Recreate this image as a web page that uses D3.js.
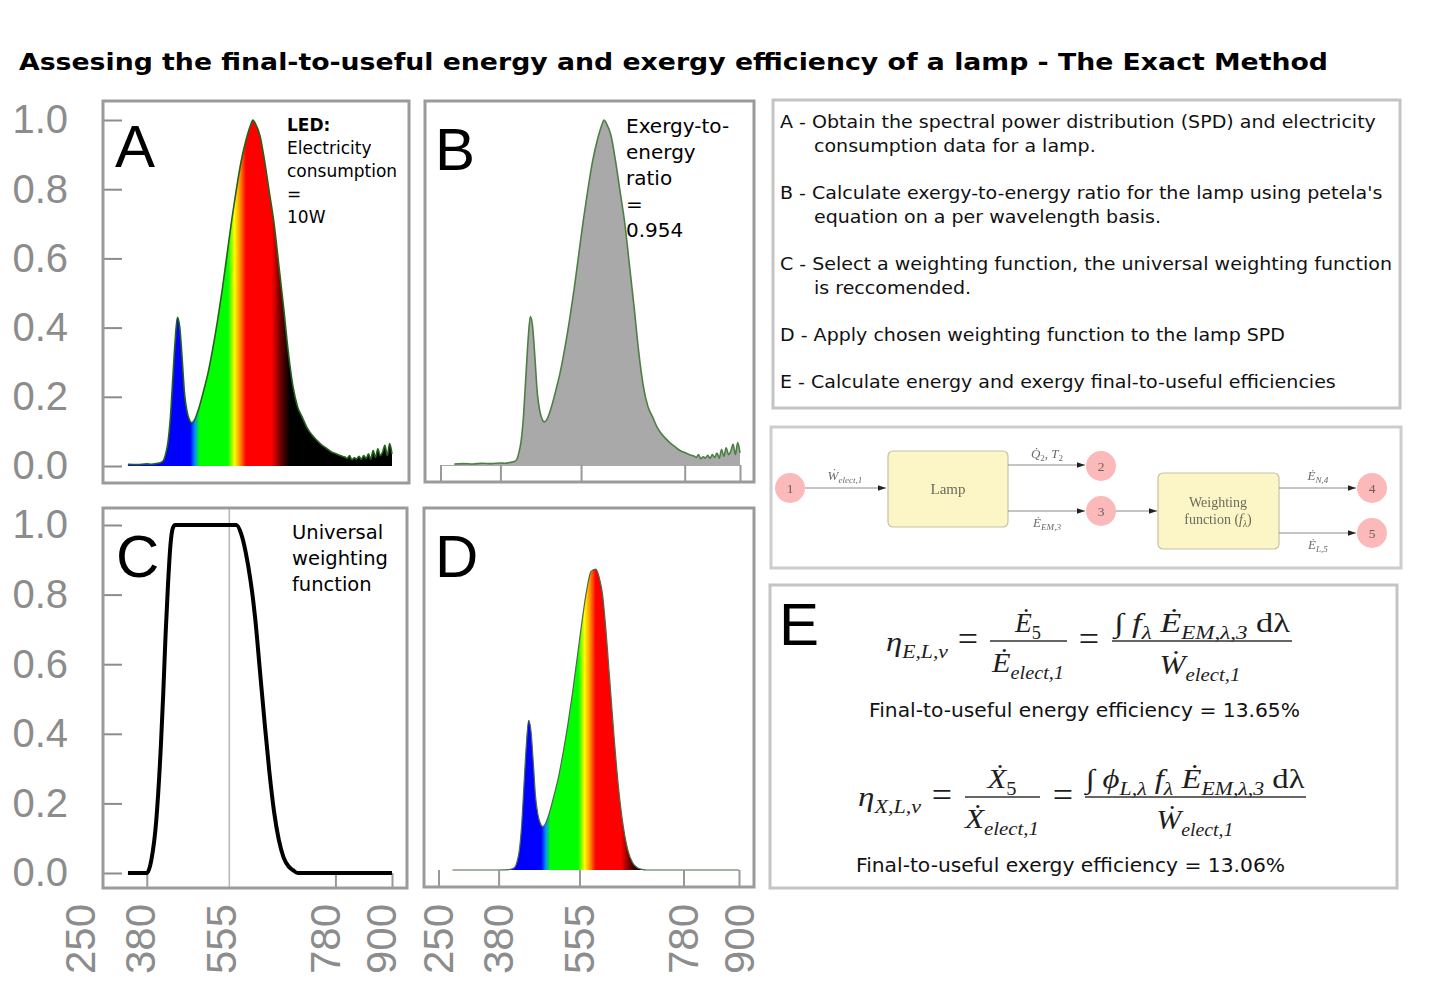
<!DOCTYPE html>
<html><head><meta charset="utf-8">
<script src="https://cdn.jsdelivr.net/npm/d3@7/dist/d3.min.js"></script>
<style>html,body{margin:0;padding:0;background:#fff;}svg{display:block;}</style>
</head><body>
<svg id="chart" width="1430" height="1000"></svg>
<script>
// ================= DATA =================
const titleText = "Assesing the final-to-useful energy and exergy efficiency of a lamp - The Exact Method";

const wavelengths = [280,300,320,340,360,380,390,400,410,415,420,425,430,435,440,445,450,455,460,465,470,475,480,490,500,510,520,530,540,550,560,570,580,590,600,605,610,620,630,640,650,660,670,680,690,700,710,720,730,740,750,760,770,780,790,800,805,810,815,820,825,830,835,840,845,850,855,860,865,870,875,880,885,890,895,900];

// normalised spectral power distribution of the LED lamp (panel A)
const spdValues = [0.003,0.004,0.003,0.005,0.004,0.006,0.005,0.007,0.010,0.015,0.035,0.070,0.140,0.250,0.360,0.430,0.400,0.310,0.210,0.160,0.135,0.125,0.130,0.165,0.215,0.270,0.340,0.420,0.510,0.610,0.710,0.800,0.880,0.940,0.985,1.000,0.990,0.955,0.880,0.790,0.700,0.580,0.460,0.330,0.230,0.170,0.140,0.110,0.090,0.075,0.062,0.052,0.042,0.036,0.030,0.026,0.022,0.030,0.018,0.024,0.020,0.028,0.019,0.030,0.022,0.035,0.020,0.045,0.025,0.050,0.030,0.040,0.060,0.030,0.065,0.035];

// universal weighting function f_lambda (panel C)
const weightValues = [0,0,0,0,0,0,0.04,0.15,0.37,0.52,0.69,0.83,0.94,0.99,1,1,1,1,1,1,1,1,1,1,1,1,1,1,1,1,1,1,0.975,0.92,0.84,0.79,0.73,0.58,0.43,0.29,0.175,0.095,0.045,0.02,0.008,0,0,0,0,0,0,0,0,0,0,0,0,0,0,0,0,0,0,0,0,0,0,0,0,0,0,0,0,0,0,0];

const yTickValues = [0, 0.2, 0.4, 0.6, 0.8, 1.0];
const xTickValues = [250, 380, 555, 780, 900];

const noteA = ["LED:", "Electricity", "consumption", "=", "10W"];
const noteB = ["Exergy-to-", "energy", "ratio", "=", "0.954"];
const noteC = ["Universal", "weighting", "function"];

const stepLines = [
  ["A - Obtain the spectral power distribution (SPD) and electricity", "consumption data for a lamp."],
  ["B - Calculate exergy-to-energy ratio for the lamp using petela's", "equation on a per wavelength basis."],
  ["C - Select a weighting function, the universal weighting function", "is reccomended."],
  ["D - Apply chosen weighting function to the lamp SPD"],
  ["E - Calculate energy and exergy final-to-useful efficiencies"]
];
const energyEfficiency = "13.65%";
const exergyEfficiency = "13.06%";

// ================= DRAWING =================
const svg = d3.select("#chart");
const defs = svg.append("defs");
const SANS = "'DejaVu Sans', Verdana, sans-serif";
const ARIAL = "'Liberation Sans', Arial, sans-serif";
const SERIF = "'Liberation Serif', 'DejaVu Serif', serif";
const GRAY = "#8c8c8c";

const spd = wavelengths.map((w, i) => ({w, v: spdValues[i]}));
const weighted = wavelengths.map((w, i) => ({w, v: spdValues[i] * weightValues[i]}));
const wfun = wavelengths.map((w, i) => ({w, v: weightValues[i]}));

// scales (per panel, measured from the montage)
const xA = d3.scaleLinear().domain([250, 900]).range([85.5, 392]);
const xB = d3.scaleLinear().domain([250, 900]).range([440.5, 740]);
const xC = d3.scaleLinear().domain([250, 900]).range([85.5, 392]);
const xD = d3.scaleLinear().domain([250, 900]).range([438.5, 739]);
const xLabC = d3.scaleLinear().domain([250, 900]).range([80, 381]);
const yA = d3.scaleLinear().domain([0, 1]).range([466, 120]);
const yB = d3.scaleLinear().domain([0, 1]).range([465, 120]);
const yC = d3.scaleLinear().domain([0, 1]).range([873, 525]);
const yD = d3.scaleLinear().domain([0, 1]).range([870, 522]);

// spectrum gradient
const specStops = [[280,"#0000ff"],[472,"#0000ff"],[482,"#0090ff"],[492,"#00ff00"],[552,"#00ff00"],[566,"#ffff00"],[578,"#ff8c00"],[590,"#ff0000"],[645,"#ff0000"],[663,"#700000"],[683,"#000000"],[900,"#000000"]];
function spectrumGradient(id, xs) {
  const g = defs.append("linearGradient").attr("id", id).attr("gradientUnits", "userSpaceOnUse")
    .attr("x1", xs(280)).attr("x2", xs(900)).attr("y1", 0).attr("y2", 0);
  g.selectAll("stop").data(specStops).join("stop")
    .attr("offset", d => (d[0] - 280) / 620).attr("stop-color", d => d[1]);
}
spectrumGradient("specA", xA);
spectrumGradient("specD", xD);

const blur = defs.append("filter").attr("id", "soft");
blur.append("feGaussianBlur").attr("stdDeviation", 0.55);

function frame(x0, y0, x1, y1, color, w) {
  svg.append("rect").attr("x", x0).attr("y", y0).attr("width", x1 - x0).attr("height", y1 - y0)
    .attr("fill", "none").attr("stroke", color).attr("stroke-width", w);
}
function fitText(sel, target) {
  const n = sel.node().getComputedTextLength();
  if (n > 0) sel.attr("textLength", target).attr("lengthAdjust", "spacingAndGlyphs");
}

// ---- title ----
const title = svg.append("text").attr("x", 19).attr("y", 70).text(titleText)
  .style("font-family", SANS).style("font-weight", "bold").style("font-size", "23.5px").attr("fill", "#000");
fitText(title, 1309);

// ---- y axes ----
function yAxis(yScale) {
  const g = svg.append("g").attr("transform", "translate(122,0)")
    .call(d3.axisLeft(yScale).tickValues(yTickValues).tickFormat(d3.format(".1f")).tickSize(19).tickPadding(35));
  g.select(".domain").remove();
  g.selectAll(".tick line").attr("stroke", GRAY).attr("stroke-width", 2);
  g.selectAll(".tick text").attr("fill", GRAY).style("font-family", ARIAL).style("font-size", "40px");
}
yAxis(yA);
yAxis(yC);

// ---- Panel A ----
const areaA = d3.area().x(d => xA(d.w)).y0(yA(0)).y1(d => yA(d.v)).curve(d3.curveMonotoneX);
const lineA = d3.line().x(d => xA(d.w)).y(d => yA(d.v)).curve(d3.curveMonotoneX);
const spdA = spd.filter(d => d.w >= 340);
svg.append("path").datum(spdA).attr("d", areaA).attr("fill", "url(#specA)");
svg.append("path").datum(spdA).attr("d", lineA).attr("fill", "none").attr("stroke", "#24621c").attr("stroke-width", 1.6);
frame(103, 101, 409, 483, "#9b9b9b", 3);

// ---- Panel B ----
const areaB = d3.area().x(d => xB(d.w)).y0(yB(0)).y1(d => yB(d.v)).curve(d3.curveMonotoneX);
const lineB = d3.line().x(d => xB(d.w)).y(d => yB(d.v)).curve(d3.curveMonotoneX);
svg.append("path").datum(spd).attr("d", areaB).attr("fill", "#a9a9a9");
svg.append("path").datum(spd).attr("d", lineB).attr("fill", "none").attr("stroke", "#4d7f45").attr("stroke-width", 1.6);
const axB = svg.append("g").attr("transform", `translate(0,${yB(0)})`)
  .call(d3.axisBottom(xB).tickValues(xTickValues).tickSize(17).tickSizeOuter(0).tickFormat(""));
axB.select(".domain").attr("stroke", "#aaa").attr("stroke-width", 1);
axB.selectAll(".tick line").attr("stroke", "#999").attr("stroke-width", 2);
frame(425, 101, 754, 482, "#9b9b9b", 3);

// ---- Panel C ----
svg.append("line").attr("x1", xC(555)).attr("x2", xC(555)).attr("y1", 508).attr("y2", 888)
  .attr("stroke", "#b5b5b5").attr("stroke-width", 1.5);
const axC = svg.append("g").attr("transform", `translate(0,${yC(0)})`)
  .call(d3.axisBottom(xC).tickValues(xTickValues.filter(d => d !== 250 && d !== 555)).tickSize(15).tickFormat(""));
axC.select(".domain").remove();
axC.selectAll(".tick line").attr("stroke", "#999").attr("stroke-width", 2);
const lineC = d3.line().x(d => xC(d.w)).y(d => yC(d.v)).curve(d3.curveMonotoneX);
svg.append("path").datum(wfun.filter(d => d.w >= 340)).attr("d", lineC).attr("fill", "none")
  .attr("stroke", "#000").attr("stroke-width", 4).attr("stroke-linejoin", "round");
frame(103, 508, 407, 888, "#9b9b9b", 3);

// ---- Panel D ----
const areaD = d3.area().x(d => xD(d.w)).y0(yD(0)).y1(d => yD(d.v)).curve(d3.curveMonotoneX);
const lineD = d3.line().x(d => xD(d.w)).y(d => yD(d.v)).curve(d3.curveMonotoneX);
svg.append("path").datum(weighted).attr("d", areaD).attr("fill", "url(#specD)");
svg.append("path").datum(weighted).attr("d", lineD).attr("fill", "none").attr("stroke", "#4a6a4a").attr("stroke-width", 1.2);
const axD = svg.append("g").attr("transform", `translate(0,${yD(0)})`)
  .call(d3.axisBottom(xD).tickValues(xTickValues).tickSize(17).tickSizeOuter(0).tickFormat(""));
axD.select(".domain").remove();
axD.selectAll(".tick line").attr("stroke", "#999").attr("stroke-width", 2);
frame(424, 508, 754, 887, "#9b9b9b", 3);

// ---- rotated x tick labels ----
function xLabels(scale) {
  svg.append("g").selectAll("text").data(xTickValues).join("text")
    .attr("transform", d => `translate(${scale(d)},904) rotate(-90)`)
    .attr("text-anchor", "end").attr("dy", "0.35em").text(d => d)
    .attr("fill", GRAY).style("font-family", ARIAL).style("font-size", "42px");
}
xLabels(xLabC);
xLabels(xD);

// ---- panel letters ----
const letters = [["A", 115, 167], ["B", 435, 170], ["C", 116, 577], ["D", 435, 577], ["E", 779, 645]];
svg.append("g").selectAll("text").data(letters).join("text")
  .attr("x", d => d[1]).attr("y", d => d[2]).text(d => d[0])
  .style("font-family", ARIAL).style("font-size", "60px").attr("fill", "#000");

// ---- notes ----
function note(lines, x, y0, dy, size, boldFirst) {
  const g = svg.append("g");
  lines.forEach((t, i) => {
    g.append("text").attr("x", x).attr("y", y0 + i * dy).text(t)
      .style("font-family", SANS).style("font-size", size + "px")
      .style("font-weight", boldFirst && i === 0 ? "bold" : "normal").attr("fill", "#000");
  });
}
note(noteA, 287, 131, 23, 17, true);
note(noteB, 626, 133, 26, 20, false);
note(noteC, 292, 539, 26, 19.5, false);

// ---- steps box ----
frame(773, 100, 1400, 408, "#c4c4c4", 3);
{
  let y = 128;
  const texts = [];
  stepLines.forEach(step => {
    step.forEach((t, j) => {
      texts.push(svg.append("text").attr("x", j === 0 ? 780 : 814).attr("y", y).text(t)
        .style("font-family", SANS).style("font-size", "18.5px").attr("fill", "#111"));
      y += 24;
    });
    y += 23;
  });
  const ref = texts[4].node().getComputedTextLength();
  const ratio = 612 / ref;
  texts.forEach(t => fitText(t, t.node().getComputedTextLength() * ratio));
}

// ---- process diagram ----
frame(771, 427, 1401, 568, "#cdcdcd", 3);
const dg = svg.append("g").attr("filter", "url(#soft)");
defs.append("marker").attr("id", "arr").attr("viewBox", "0 0 10 10").attr("refX", 10).attr("refY", 5)
  .attr("markerWidth", 8).attr("markerHeight", 8).attr("orient", "auto")
  .append("path").attr("d", "M0,1.5 L10,5 L0,8.5 Z").attr("fill", "#222");
const boxes = [[888, 451, 120, 76], [1158, 473, 121, 76]];
boxes.forEach(b => {
  dg.append("rect").attr("x", b[0]).attr("y", b[1]).attr("width", b[2]).attr("height", b[3]).attr("rx", 5)
    .attr("fill", "#fcf6c6").attr("stroke", "#c4c2a8").attr("stroke-width", 1.2);
});
dg.append("text").attr("x", 948).attr("y", 494).attr("text-anchor", "middle").text("Lamp")
  .style("font-family", SERIF).style("font-size", "15px").attr("fill", "#6b6a5a");
dg.append("text").attr("x", 1218).attr("y", 507).attr("text-anchor", "middle").text("Weighting")
  .style("font-family", SERIF).style("font-size", "14px").attr("fill", "#6b6a5a");
{
  const t = dg.append("text").attr("x", 1218).attr("y", 524).attr("text-anchor", "middle")
    .style("font-family", SERIF).style("font-size", "14px").attr("fill", "#6b6a5a");
  t.append("tspan").text("function (");
  t.append("tspan").text("f").style("font-style", "italic");
  t.append("tspan").text("λ").style("font-size", "9.5px").style("font-style", "italic").attr("dy", 3);
  t.append("tspan").text(")").attr("dy", -3);
}
const arrows = [[805, 488, 886, 488], [1008, 465, 1085, 465], [1008, 511, 1085, 511], [1116, 511, 1157, 511], [1279, 488, 1356, 488], [1279, 533, 1356, 533]];
arrows.forEach(a => dg.append("line").attr("x1", a[0]).attr("y1", a[1]).attr("x2", a[2]).attr("y2", a[3])
  .attr("stroke", "#8a8a8a").attr("stroke-width", 1).attr("marker-end", "url(#arr)"));
const nodes = [["1", 790, 488], ["2", 1101, 466], ["3", 1101, 511], ["4", 1372, 488], ["5", 1372, 533]];
nodes.forEach(n => {
  dg.append("circle").attr("cx", n[1]).attr("cy", n[2]).attr("r", 15).attr("fill", "#fbb9b9");
  dg.append("text").attr("x", n[1]).attr("y", n[2] + 4.5).attr("text-anchor", "middle").text(n[0])
    .style("font-family", SERIF).style("font-size", "13.5px").attr("fill", "#6a5f5f");
});

// math helper
function mathText(parent, x, y, parts, size, anchor, color, subSize) {
  const t = parent.append("text").attr("x", x).attr("y", y).attr("text-anchor", anchor || "start")
    .style("font-family", SERIF).style("font-size", size + "px").attr("fill", color || "#222");
  let cur = 0;
  const ss = subSize || size * 0.7;
  parts.forEach(([s, kind]) => {
    const sub = kind.includes("s");
    const target = sub ? size * 0.25 : 0;
    const ts = t.append("tspan").text(s).attr("dy", target - cur);
    cur = target;
    ts.style("font-size", (sub ? ss : size) + "px");
    if (kind.includes("i")) ts.style("font-style", "italic");
  });
  return t;
}
const dc = "#6a6a6a";
mathText(dg, 845, 480, [["Ẇ", "i"], ["elect,1", "si"]], 13, "middle", dc);
mathText(dg, 1047, 458, [["Q̇", "i"], ["2", "s"], [", ", "n"], ["T", "i"], ["2", "s"]], 13, "middle", dc);
mathText(dg, 1047, 527, [["Ė", "i"], ["EM,3", "si"]], 13, "middle", dc);
mathText(dg, 1318, 480, [["Ė", "i"], ["N,4", "si"]], 13, "middle", dc);
mathText(dg, 1318, 549, [["Ė", "i"], ["L,5", "si"]], 13, "middle", dc);

// ---- Panel E: equations ----
frame(770, 585, 1397, 888, "#c4c4c4", 3);
const eg = svg.append("g");
function fracBar(x0, x1, y) {
  eg.append("line").attr("x1", x0).attr("x2", x1).attr("y1", y).attr("y2", y).attr("stroke", "#333").attr("stroke-width", 1.3);
}
function eq(x, y, parts, anchor, width, size) {
  const t = mathText(eg, x, y, parts, size || 27, anchor, "#1e1e1e", 18);
  if (width) fitText(t, width);
  return t;
}
// energy
eq(886, 651, [["η", "i"], ["E,L,v", "si"]], "start", 62);
eq(968, 651, [["=", "n"]], "middle", null, 36);
eq(1028, 632, [["Ė", "i"], ["5", "s"]], "middle", 26);
fracBar(990, 1067, 641);
eq(1028, 672, [["Ė", "i"], ["elect,1", "si"]], "middle", 72);
eq(1089, 651, [["=", "n"]], "middle", null, 36);
eq(1202, 632, [["∫ ", "n"], ["f", "i"], ["λ", "si"], [" Ė", "i"], ["EM,λ,3", "si"], [" dλ", "n"]], "middle", 176);
fracBar(1112, 1292, 641);
eq(1200, 674, [["Ẇ", "i"], ["elect,1", "si"]], "middle", 81);
const fe = svg.append("text").attr("x", 869).attr("y", 717).text("Final-to-useful energy efficiency = " + energyEfficiency)
  .style("font-family", SANS).style("font-size", "19px").attr("fill", "#111");
fitText(fe, 431);
// exergy
eq(858, 806, [["η", "i"], ["X,L,v", "si"]], "start", 63);
eq(942, 807, [["=", "n"]], "middle", null, 36);
eq(1002, 788, [["Ẋ", "i"], ["5", "s"]], "middle", 29);
fracBar(965, 1040, 797);
eq(1002, 828, [["Ẋ", "i"], ["elect,1", "si"]], "middle", 74);
eq(1063, 807, [["=", "n"]], "middle", null, 36);
eq(1195, 788, [["∫ ", "n"], ["ϕ", "i"], ["L,λ", "si"], [" f", "i"], ["λ", "si"], [" Ė", "i"], ["EM,λ,3", "si"], [" dλ", "n"]], "middle", 219);
fracBar(1085, 1306, 797);
eq(1195, 829, [["Ẇ", "i"], ["elect,1", "si"]], "middle", 77);
const fx = svg.append("text").attr("x", 856).attr("y", 872).text("Final-to-useful exergy efficiency = " + exergyEfficiency)
  .style("font-family", SANS).style("font-size", "19px").attr("fill", "#111");
fitText(fx, 429);
</script>
</body></html>
